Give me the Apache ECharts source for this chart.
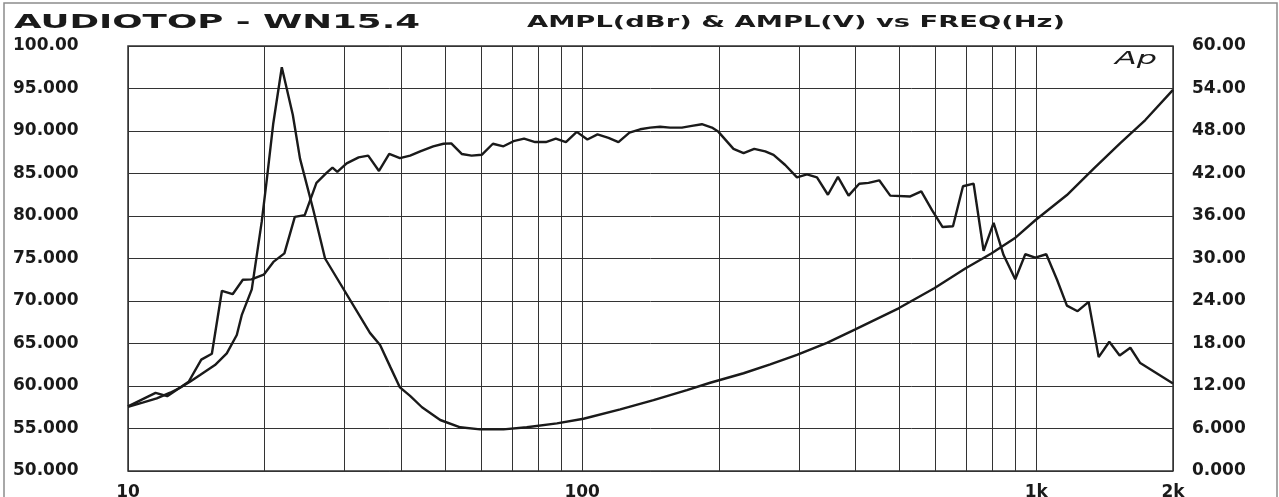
<!DOCTYPE html>
<html>
<head>
<meta charset="utf-8">
<script src="https://cdn.jsdelivr.net/npm/echarts@6/dist/echarts.min.js"></script>
<style>
html,body{margin:0;padding:0;background:#ffffff;}
#c{width:1279px;height:497px;}
</style>
</head>
<body>
<div id="c"></div>
<script>
// ---------- text ----------
const titleLeft = 'AUDIOTOP - WN15.4';
const titleRight = 'AMPL(dBr) & AMPL(V) vs FREQ(Hz)';
const logoText = 'Ap';

// ---------- tick labels ----------
const xTickValues = [10, 100, 1000, 2000];
const xTickLabels = ['10', '100', '1k', '2k'];
const leftTickLabels = ['50.000','55.000','60.000','65.000','70.000','75.000','80.000','85.000','90.000','95.000','100.00'];
const rightTickLabels = ['0.000','6.000','12.00','18.00','24.00','30.00','36.00','42.00','48.00','54.00','60.00'];
const gridFreqs = [20,30,40,50,60,70,80,90,200,300,400,500,600,700,800,900];

// ---------- series: amplitude (dBr) ----------
const freqA = [10,11.5,12.2,13.6,14.5,15.3,16.1,17.0,17.9,18.7,19.9,20.9,22.1,23.3,24.5,26.0,27.4,28.2,28.9,30.3,32.2,33.8,35.7,37.6,39.7,41.8,44.0,47.0,49.5,51.5,54.3,57.1,60.1,63.6,67.1,70.6,74.5,78.8,83.2,87.5,92.1,97.3,102.7,108.1,114.3,120.2,127.1,134.2,141.2,148.5,156.2,165.8,174.4,183.5,193.1,199.6,215.4,226.7,239.3,253,263.9,280,297.2,312.6,328.9,347.7,365.8,386.1,407.5,427.2,451,476.9,527.9,558.2,589.4,621.9,655.5,689.6,727.8,765.6,805.4,847.2,898.8,945.8,994.9,1052,1111,1168,1233,1304,1372,1448,1526,1611,1694,2000];
const dbrA = [57.6,59.2,58.8,60.5,63.1,63.8,71.2,70.8,72.5,72.55,73.1,74.6,75.6,79.9,80.1,83.9,85.1,85.7,85.2,86.2,86.9,87.1,85.3,87.3,86.8,87.1,87.6,88.2,88.5,88.55,87.3,87.1,87.2,88.5,88.2,88.8,89.1,88.7,88.7,89.1,88.7,89.9,89.0,89.6,89.2,88.7,89.8,90.2,90.4,90.5,90.4,90.4,90.6,90.8,90.4,89.9,87.9,87.4,87.9,87.6,87.2,86.0,84.55,84.9,84.55,82.5,84.6,82.4,83.8,83.9,84.2,82.4,82.3,82.9,80.7,78.7,78.8,83.5,83.8,75.9,79.2,75.4,72.55,75.5,75.1,75.5,72.5,69.45,68.8,69.9,63.4,65.2,63.6,64.5,62.7,60.3];

// ---------- series: amplitude (V) ----------
const freqB = [10,10.81,11.57,12.38,13.02,13.69,14.41,15.54,16.50,17.36,17.80,18.73,19.70,20.21,20.89,21.81,23.06,23.92,25.59,27.16,34.1,35.9,37.8,39.7,41.8,44.4,48.7,53.9,59.6,67.1,75.5,88.0,100.7,121.3,143.6,170.1,191.4,226.7,259.5,297.2,346,399.4,497.5,596.2,697.7,796,896,994.9,1168,1338,1531,1738,2000];
const voltB = [9.07,9.7,10.26,11.05,11.76,12.6,13.55,14.96,16.6,19.2,22.0,25.65,35.2,41.1,49.1,57.0,50.3,44.1,36.85,30.0,19.5,17.8,14.7,11.8,10.6,9.0,7.2,6.17,5.88,5.88,6.17,6.73,7.38,8.7,10.0,11.43,12.46,13.8,15.06,16.4,18.1,20.0,22.97,25.8,28.6,30.7,32.85,35.4,38.96,42.7,46.3,49.55,53.8];

// ---------- helpers ----------
function measure(text, font) {
  const ctx = document.createElement('canvas').getContext('2d');
  ctx.font = font;
  return ctx.measureText(text).width;
}
function xLabel(v) {
  let best = 0, bd = Infinity;
  for (let i = 0; i < xTickValues.length; i++) {
    const d = Math.abs(Math.log10(v) - Math.log10(xTickValues[i]));
    if (d < bd) { bd = d; best = i; }
  }
  return bd < 0.02 ? xTickLabels[best] : '';
}
const FF = '"DejaVu Sans"';
const INK = '#1a1a1a';
const GRIDC = '#333333';

const t1Font = 'bold 19px ' + FF;
const t2Font = 'bold 16px ' + FF;
const t3Font = 'italic 17px ' + FF;

const chart = echarts.init(document.getElementById('c'), null, {renderer: 'canvas'});
chart.setOption({
  animation: false,
  backgroundColor: '#ffffff',
  grid: {
    left: 128, right: 106, top: 46, bottom: 26,
    show: true, borderColor: GRIDC, borderWidth: 1.5,
    containLabel: false, outerBoundsMode: 'none'
  },
  graphic: [
    {type: 'rect', silent: true, z: -10,
     shape: {x: 4, y: 3, width: 1273, height: 530},
     style: {fill: 'none', stroke: '#8c8c8c', lineWidth: 1.5}},
    {type: 'text', x: 14, y: 23, scaleX: 406 / measure(titleLeft, t1Font),
     style: {text: titleLeft, fontSize: 19, fontWeight: 'bold', fontFamily: 'DejaVu Sans',
             fill: INK, align: 'left', verticalAlign: 'middle'}},
    {type: 'text', x: 527, y: 23, scaleX: 538 / measure(titleRight, t2Font),
     style: {text: titleRight, fontSize: 16, fontWeight: 'bold', fontFamily: 'DejaVu Sans',
             fill: INK, align: 'left', verticalAlign: 'middle'}},
    {type: 'text', x: 1115, y: 60, scaleX: 42 / measure(logoText, t3Font),
     style: {text: logoText, fontSize: 17, fontStyle: 'italic', fontFamily: 'DejaVu Sans',
             fill: INK, align: 'left', verticalAlign: 'middle'}}
  ],
  xAxis: {
    type: 'log', logBase: 10, min: 10, max: 2000,
    axisLine: {show: false}, axisTick: {show: false},
    splitLine: {show: true, lineStyle: {color: GRIDC, width: 1}},
    minorTick: {show: false}, minorSplitLine: {show: false},
    axisLabel: {
      formatter: xLabel, showMinLabel: true, showMaxLabel: true,
      fontSize: 17, fontWeight: 'bold', fontFamily: 'DejaVu Sans', color: INK, margin: 13
    }
  },
  yAxis: [
    {
      type: 'value', position: 'left', min: 50, max: 100, interval: 5,
      axisLine: {show: false}, axisTick: {show: false},
      splitLine: {show: true, lineStyle: {color: GRIDC, width: 1}},
      axisLabel: {
        formatter: v => leftTickLabels[Math.round((v - 50) / 5)],
        align: 'left', margin: 115,
        fontSize: 17, fontWeight: 'bold', fontFamily: 'DejaVu Sans', color: INK
      }
    },
    {
      type: 'value', position: 'right', min: 0, max: 60, interval: 6,
      axisLine: {show: false}, axisTick: {show: false},
      splitLine: {show: false},
      axisLabel: {
        formatter: v => rightTickLabels[Math.round(v / 6)],
        align: 'left', margin: 19,
        fontSize: 17, fontWeight: 'bold', fontFamily: 'DejaVu Sans', color: INK
      }
    }
  ],
  series: [
    {
      name: 'AMPL(dBr)', type: 'line', yAxisIndex: 0,
      data: freqA.map((f, i) => [f, dbrA[i]]),
      symbol: 'none', showSymbol: false, smooth: false, z: 3,
      lineStyle: {color: INK, width: 2.4},
      markLine: {
        silent: true, z: 1, symbol: ['none', 'none'],
        label: {show: false}, emphasis: {disabled: true},
        lineStyle: {color: GRIDC, width: 1, type: 'solid'},
        data: gridFreqs.map(f => ({xAxis: f}))
      }
    },
    {
      name: 'AMPL(V)', type: 'line', yAxisIndex: 1,
      data: freqB.map((f, i) => [f, voltB[i]]),
      symbol: 'none', showSymbol: false, smooth: false, z: 3,
      lineStyle: {color: INK, width: 2.4}
    }
  ]
});
</script>
</body>
</html>
